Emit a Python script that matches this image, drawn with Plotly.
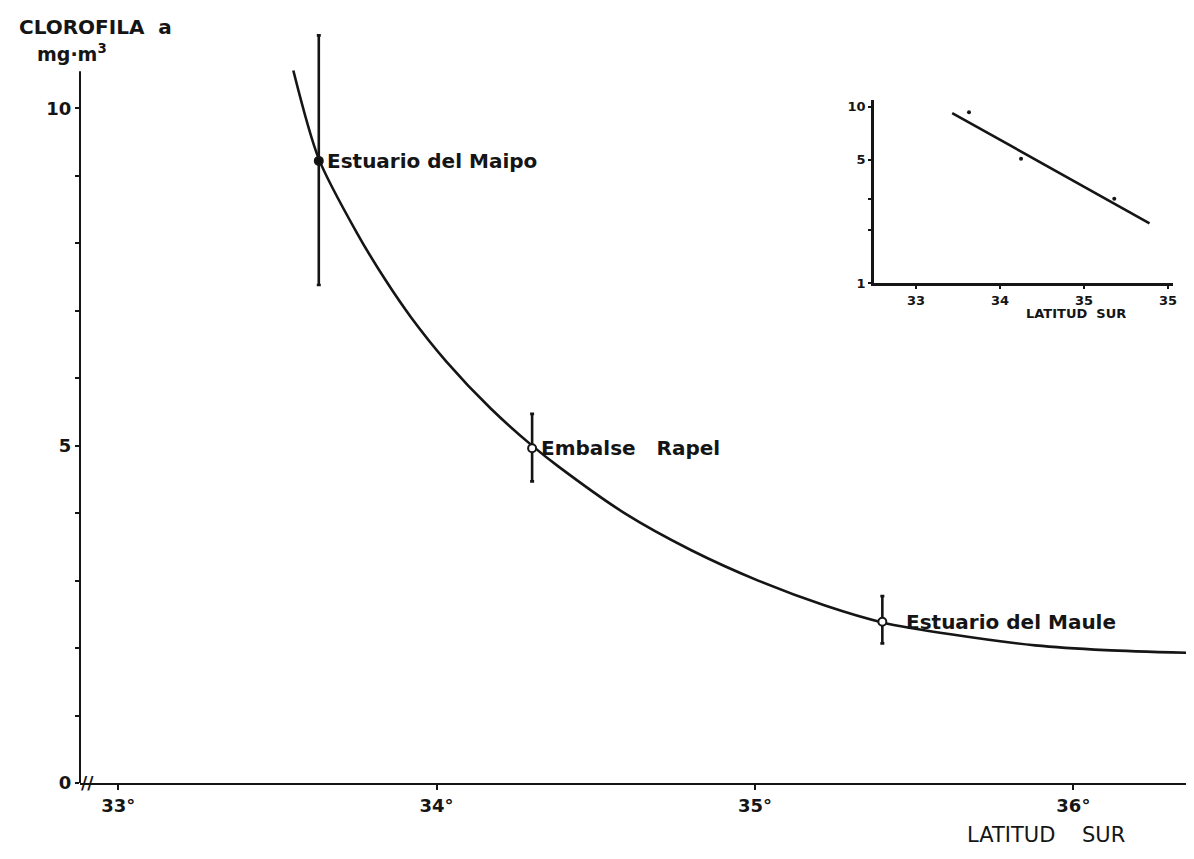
import plotly.graph_objects as go
import math

# ---- data ----
station_names = ["Estuario del Maipo", "Embalse\u00a0\u00a0\u00a0Rapel", "Estuario del Maule"]
station_lat = [33.63, 34.30, 35.40]
station_chl = [9.22, 4.96, 2.39]
err_plus = [1.86, 0.51, 0.38]
err_minus = [1.84, 0.49, 0.32]
station_fill = ["#111111", "white", "white"]

curve_lat = [33.55, 33.63, 33.75, 33.84, 33.92, 34.03, 34.17, 34.30, 34.38, 34.59,
             34.80, 35.01, 35.22, 35.40, 35.62, 35.88, 36.10, 36.36]
curve_chl = [10.56, 9.25, 8.15, 7.45, 6.90, 6.25, 5.55, 5.00, 4.70, 4.00,
             3.45, 3.00, 2.63, 2.38, 2.20, 2.04, 1.97, 1.93]

x_ticks = [33, 34, 35, 36]
x_ticklabels = ["33°", "34°", "35°", "36°"]
y_ticks = [0, 5, 10]
y_ticklabels = ["0", "5", "10"]
y_minor_ticks = [1, 2, 3, 4, 6, 7, 8, 9]

# inset (log scale)
inset_line_lat = [33.43, 35.78]
inset_line_chl = [9.2, 2.18]
inset_pts_lat = [33.63, 34.25, 35.36]
inset_pts_chl = [9.3, 5.07, 3.0]
inset_x_ticks = [33, 34, 35, 36]
inset_x_ticklabels = ["33", "34", "35", "35"]
inset_y_ticks = [1, 5, 10]
inset_y_ticklabels = ["1", "5", "10"]
inset_y_minor = [2, 3]

FONT = "DejaVu Sans"
INK = "#151515"

fig = go.Figure()

fig.add_trace(go.Scatter(
    x=curve_lat, y=curve_chl, mode="lines",
    line=dict(color=INK, width=2.6, shape="spline", smoothing=0.8),
    hoverinfo="skip", showlegend=False))

fig.add_trace(go.Scatter(
    x=station_lat, y=station_chl, mode="markers",
    marker=dict(size=8, color=station_fill, line=dict(color=INK, width=2)),
    error_y=dict(type="data", symmetric=False, array=err_plus, arrayminus=err_minus,
                 color=INK, thickness=2.6, width=2),
    showlegend=False, cliponaxis=False))

for name, la, ch, sh in zip(station_names, station_lat, station_chl, [6, 7, 22]):
    fig.add_annotation(x=la, y=ch, text=name, showarrow=False, xanchor="left",
                       yanchor="middle", xshift=sh,
                       font=dict(family=FONT, size=20, color=INK, weight="bold"))

# inset
fig.add_trace(go.Scatter(
    x=inset_line_lat, y=inset_line_chl, mode="lines", xaxis="x2", yaxis="y2",
    line=dict(color=INK, width=2.6), showlegend=False, hoverinfo="skip"))
fig.add_trace(go.Scatter(
    x=inset_pts_lat, y=inset_pts_chl, mode="markers", xaxis="x2", yaxis="y2",
    marker=dict(size=4, color=INK), showlegend=False, hoverinfo="skip"))

x_lo, x_hi = 32.88, 36.36
y_lo, y_hi = 0, 11.16

fig.update_layout(
    width=1194, height=859,
    margin=dict(l=72, r=10, t=22, b=84),
    paper_bgcolor="white", plot_bgcolor="white",
    font=dict(family=FONT, color=INK),
    xaxis=dict(range=[x_lo, x_hi], tickvals=x_ticks, ticktext=x_ticklabels,
               ticks="outside", ticklen=5, tickwidth=2, tickcolor=INK,
               showline=True, linewidth=2, linecolor=INK, showgrid=False,
               zeroline=False, tickfont=dict(size=18, family=FONT, color=INK, weight="bold")),
    yaxis=dict(range=[y_lo, y_hi], tickvals=y_ticks, ticktext=y_ticklabels,
               ticks="outside", ticklen=4, tickwidth=2, tickcolor=INK,
               minor=dict(tickvals=y_minor_ticks, ticks="outside", ticklen=4,
                          tickwidth=2, tickcolor=INK),
               showline=False, showgrid=False, zeroline=False,
               tickfont=dict(size=18, family=FONT, color=INK, weight="bold")),
    xaxis2=dict(domain=[0.7167, 0.9865], anchor="y2", range=[32.5, 36.06],
                tickvals=inset_x_ticks, ticktext=inset_x_ticklabels,
                ticks="outside", ticklen=3, tickwidth=1.5, tickcolor=INK,
                showline=True, linewidth=3, linecolor=INK, showgrid=False,
                zeroline=False, tickfont=dict(size=13, family=FONT, color=INK, weight="bold")),
    yaxis2=dict(domain=[0.664, 0.907], anchor="x2", type="log",
                range=[0, math.log10(10.9)],
                tickvals=inset_y_ticks, ticktext=inset_y_ticklabels,
                ticks="outside", ticklen=3, tickwidth=1.5, tickcolor=INK,
                minor=dict(tickvals=inset_y_minor, ticks="outside", ticklen=3,
                           tickwidth=1.5, tickcolor=INK),
                showline=True, linewidth=3, linecolor=INK, showgrid=False,
                zeroline=False, tickfont=dict(size=13, family=FONT, color=INK, weight="bold")),
)

# main y-axis line (stops below the top of the plot area)
fig.add_shape(type="line", xref="paper", yref="y", x0=0, x1=0, y0=0, y1=10.55,
              line=dict(color=INK, width=2))

# axis break mark
fig.add_annotation(xref="x", yref="y", x=32.905, y=0, text="//", showarrow=False,
                   font=dict(size=17, family=FONT, color=INK, weight="bold"))

# titles
fig.add_annotation(xref="paper", yref="paper", x=-0.0565, y=1.0225, xanchor="left",
                   yanchor="top", text="CLOROFILA\u00a0\u00a0a", showarrow=False,
                   font=dict(size=20, family=FONT, color=INK, weight="bold"))
fig.add_annotation(xref="paper", yref="paper", x=-0.0405, y=0.988, xanchor="left",
                   yanchor="top", text="mg·m<sup>3</sup>", showarrow=False,
                   font=dict(size=19, family=FONT, color=INK, weight="bold"))
fig.add_annotation(xref="paper", yref="paper", x=0.7986, y=-0.050, xanchor="left",
                   yanchor="top", text="LATITUD\u00a0\u00a0\u00a0\u00a0SUR", showarrow=False,
                   font=dict(size=21, family=FONT, color=INK))
fig.add_annotation(xref="paper", yref="paper", x=0.899, y=0.636, xanchor="center",
                   yanchor="top", text="LATITUD\u00a0\u00a0SUR", showarrow=False,
                   font=dict(size=13, family=FONT, color=INK, weight="bold"))

fig.write_html("out.html")
